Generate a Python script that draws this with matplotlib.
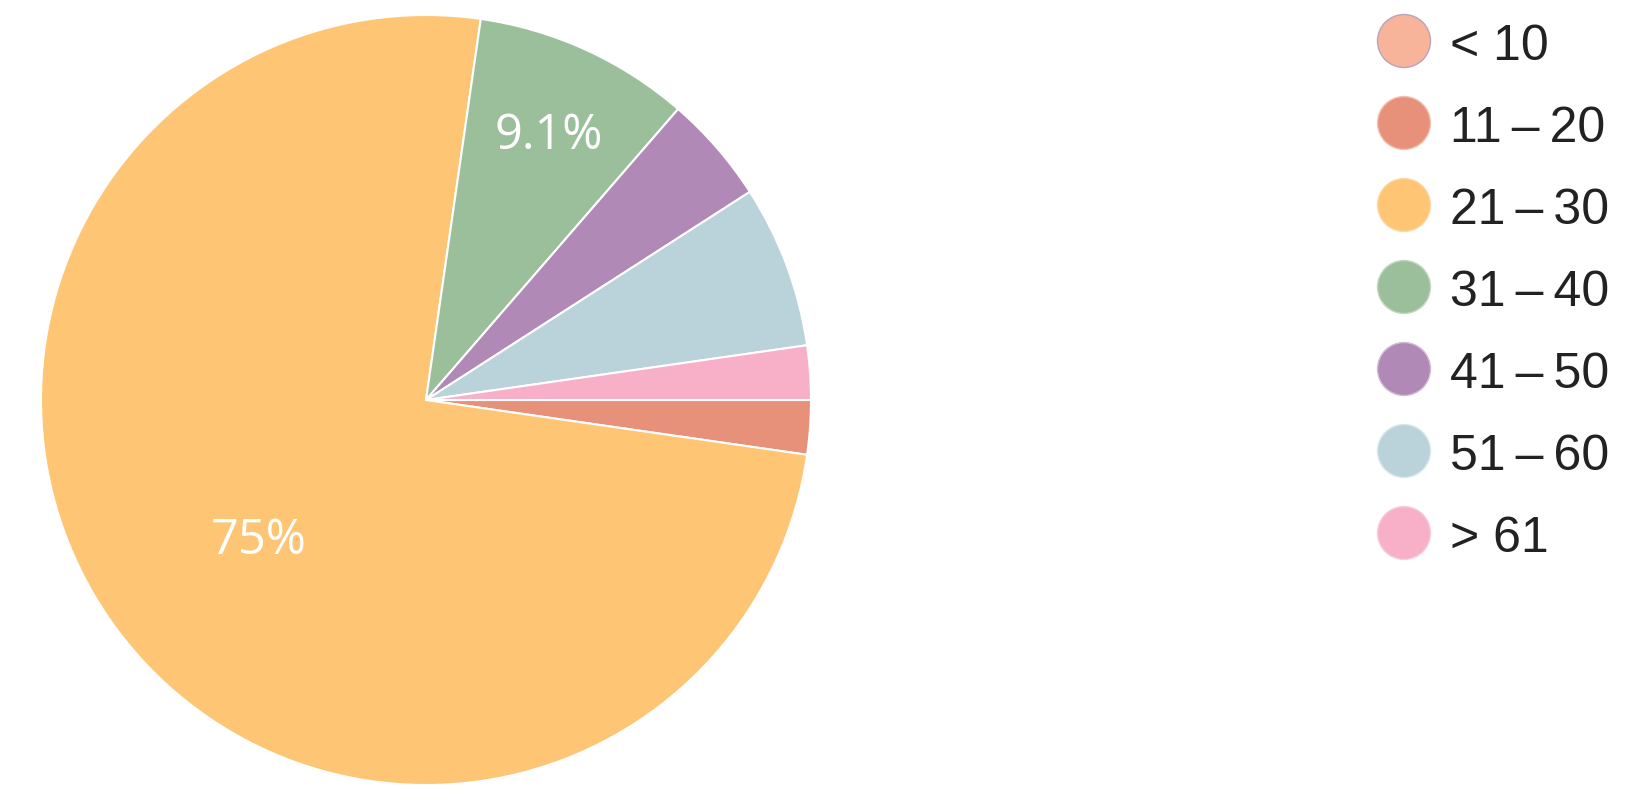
import matplotlib
matplotlib.use("Agg")
import matplotlib.pyplot as plt
import matplotlib.transforms as mtransforms
import numpy as np

categories = ["< 10", "11 – 20", "21 – 30", "31 – 40", "41 – 50", "51 – 60", "> 61"]
counts = [0, 1, 33, 4, 2, 3, 1]
colors = ["#F8B49A", "#E8917A", "#FDC574", "#9CBF9B", "#B189B6", "#BAD2DA", "#F8B0C9"]
edge_colors = ["#B9A3BE", "#F2C2B4", "#FBD9A6", "#C3D8C2", "#D3BAD6", "#D9E8EC", "#F6CFDC"]
# (radius fraction, angular nudge in degrees) for the slice labels
label_place = {"21 – 30": (0.561, 2.2), "31 – 40": (0.770, 0.0)}

W, H = 1641, 812
fig = plt.figure(figsize=(W / 100, H / 100), dpi=100)
fig.patch.set_facecolor("white")

cx, cy, R = 426, 401, 385
ax = fig.add_axes([(cx - R) / W, (H - cy - R) / H, 2 * R / W, 2 * R / H])
wedges, _ = ax.pie(counts, colors=colors, startangle=0, counterclock=False,
                   radius=1.0, wedgeprops=dict(edgecolor="white", linewidth=1.5))
ax.set_xlim(-1.0, 1.0)
ax.set_ylim(-1.0, 1.0)
ax.set_aspect("equal")
ax.axis("off")

total = sum(counts)
lbl_fs = 35
cap_px = 0.714 * lbl_fs * 100 / 72
lbl_tr = mtransforms.offset_copy(ax.transData, fig=fig, x=0, y=-cap_px / 2, units="dots")
for w, cat, c in zip(wedges, categories, counts):
    if cat in label_place:
        r, nudge = label_place[cat]
        mid = np.deg2rad((w.theta1 + w.theta2) / 2 + nudge)
        pct = 100 * c / total
        txt = f"{pct:.0f}%" if pct >= 10 else f"{pct:.1f}%"
        ax.text(r * np.cos(mid), r * np.sin(mid), txt, color="white",
                fontsize=lbl_fs, family="Open Sans", ha="center", va="baseline",
                transform=lbl_tr)

# legend
lax = fig.add_axes([0, 0, 1, 1])
lax.set_xlim(0, W)
lax.set_ylim(H, 0)
lax.axis("off")
ys = [42 + 82 * i for i in range(len(categories))]
lax.scatter([1404] * len(categories), ys, s=(53 * 0.72) ** 2, c=colors,
            edgecolors=edge_colors, linewidths=1.0, zorder=3)
for y, cat in zip(ys, categories):
    lax.text(1450, y + 18, cat.replace(" – ", "\u2009–\u2009"), fontsize=36,
             family="Liberation Sans", color="#222222", ha="left", va="baseline")

fig.savefig("out.png", dpi=100, facecolor="white")
